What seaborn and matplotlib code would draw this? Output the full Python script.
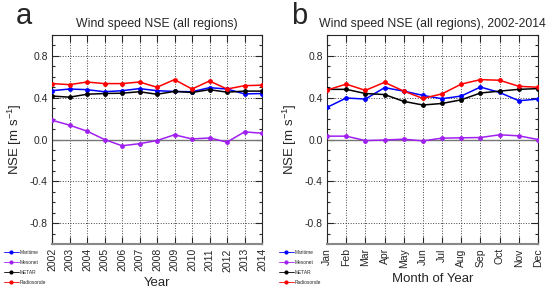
import numpy as np
import pandas as pd
import matplotlib
matplotlib.use("Agg")
import matplotlib.pyplot as plt
from matplotlib.ticker import MultipleLocator
from matplotlib.lines import Line2D
import seaborn as sns

# ─── Datos ───────────────────────────────────────────────────────────────────
years  = list(range(2002, 2015))
months = ["Jan", "Feb", "Mar", "Apr", "May", "Jun",
          "Jul", "Aug", "Sep", "Oct", "Nov", "Dec"]
series = ["Maritime", "Mesonet", "METAR", "Radiosonde"]

# Panel a: NSE anual
maritime_a   = [0.467, 0.483, 0.477, 0.457, 0.467, 0.487, 0.467, 0.460, 0.457, 0.496, 0.483, 0.436, 0.440]
mesonet_a    = [0.185, 0.137, 0.080, 0.000, -0.060, -0.040, -0.010, 0.045, 0.005, 0.015, -0.025, 0.073, 0.060]
metar_a      = [0.416, 0.405, 0.433, 0.440, 0.443, 0.457, 0.433, 0.460, 0.450, 0.477, 0.453, 0.463, 0.463]
radiosonde_a = [0.535, 0.525, 0.550, 0.535, 0.535, 0.550, 0.500, 0.573, 0.483, 0.560, 0.483, 0.515, 0.520]

# Panel b: NSE mensual 2002-2014
maritime_b   = [0.307, 0.397, 0.387, 0.496, 0.463, 0.422, 0.390, 0.416, 0.502, 0.450, 0.371, 0.387]
mesonet_b    = [0.032, 0.032, -0.010, -0.005, 0.003, -0.013, 0.013, 0.016, 0.019, 0.045, 0.035, 0.000]
metar_b      = [0.480, 0.480, 0.440, 0.430, 0.365, 0.330, 0.345, 0.380, 0.445, 0.463, 0.480, 0.487]
radiosonde_b = [0.473, 0.530, 0.470, 0.547, 0.463, 0.393, 0.437, 0.530, 0.573, 0.567, 0.509, 0.500]

colores = {"Maritime": "#0000ff", "Mesonet": "#a020f0",
           "METAR": "#000000", "Radiosonde": "#ff0000"}

def a_largo(x, valores):
    filas = []
    for s, v in zip(series, valores):
        for xi, yi in zip(x, v):
            filas.append({"x": xi, "nse": yi, "serie": s})
    return pd.DataFrame(filas)

df_a = a_largo(years, [maritime_a, mesonet_a, metar_a, radiosonde_a])
df_b = a_largo(range(len(months)), [maritime_b, mesonet_b, metar_b, radiosonde_b])

# ─── Estilo ──────────────────────────────────────────────────────────────────
sns.set_style("ticks")
plt.rcParams["font.family"] = ["Liberation Sans", "DejaVu Sans"]
plt.rcParams["mathtext.fontset"] = "custom"
plt.rcParams["mathtext.rm"] = "Liberation Sans"

fig = plt.figure(figsize=(5.5, 2.9), dpi=100)
ax_a = fig.add_axes([52 / 550, 1 - 244 / 290, 210 / 550, 209 / 290])
ax_b = fig.add_axes([327 / 550, 1 - 244 / 290, 211 / 550, 209 / 290])

def formato(ax, df, xlim, ticks, ticklabels, xlabel, titulo, letra):
    ax.axhline(0, color="#777777", lw=1.0, zorder=1)
    sns.lineplot(data=df, x="x", y="nse", hue="serie", palette=colores,
                 hue_order=series, marker="o", markersize=3.5,
                 markeredgewidth=0, lw=1.1, legend=False, ax=ax, zorder=3)
    ax.set_xlim(*xlim)
    ax.set_ylim(-1, 1)
    ax.set_xticks(ticks)
    ax.set_xticklabels(ticklabels, rotation=90, fontsize=7.5)
    ax.yaxis.set_minor_locator(MultipleLocator(0.1))
    ax.set_yticks([-0.8, -0.4, 0.0, 0.4, 0.8])
    ax.set_yticklabels(["-0.8", "-0.4", "0.0", "0.4", "0.8"], fontsize=7.5)
    ax.tick_params(which="both", direction="in", top=True, right=True,
                   length=5, width=0.8, pad=3)
    ax.tick_params(which="minor", length=2.5)
    ax.grid(True, which="major", color="#444444", ls=":", lw=0.7)
    for s in ax.spines.values():
        s.set_linewidth(0.8)
    ax.spines["bottom"].set_color("#888888")
    ax.spines["bottom"].set_linewidth(1.5)
    ax.set_xlabel(xlabel, fontsize=9.5, labelpad=4)
    ax.set_ylabel("NSE [m s$^{-1}$]", fontsize=9.5, labelpad=4)
    ax.set_title(titulo, fontsize=8.8, pad=6)
    fig.text(ax.get_position().x0 - 36 / 550, 0.895, letra, fontsize=21,
             ha="left", va="bottom")

formato(ax_a, df_a, (2002, 2014), years, [str(y) for y in years],
        "Year", "Wind speed NSE (all regions)", "a")
formato(ax_b, df_b, (0, 11), range(12), months,
        "Month of Year", "Wind speed NSE (all regions), 2002-2014", "b")

# ─── Leyendas ────────────────────────────────────────────────────────────────
handles = [Line2D([], [], color=colores[s], marker="o", markersize=2,
                  lw=0.6) for s in series]
for x0 in [2 / 550, 277 / 550]:
    fig.legend(handles, series, loc="lower left", bbox_to_anchor=(x0, 0.012),
               frameon=False, fontsize=3.5, handlelength=3, handletextpad=0.3,
               labelspacing=1.0, borderaxespad=0)

plt.savefig("out.png", dpi=100)
